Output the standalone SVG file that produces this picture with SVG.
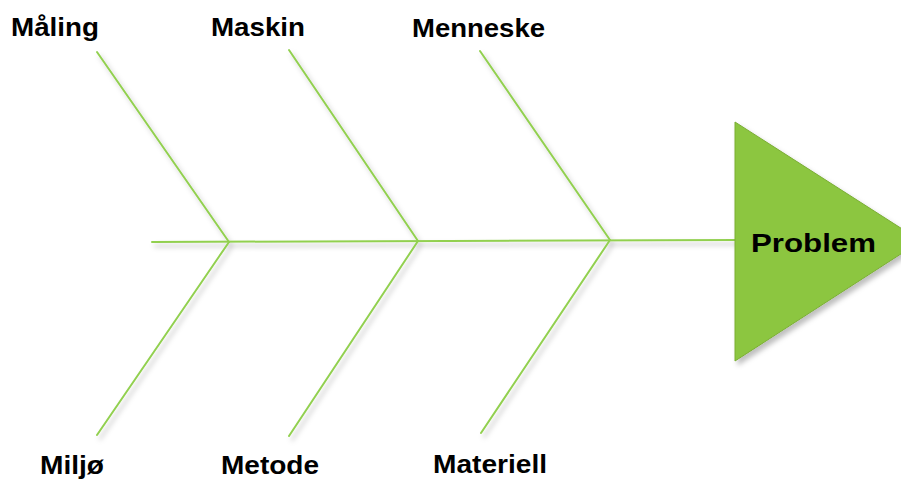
<svg xmlns="http://www.w3.org/2000/svg" width="901" height="479" viewBox="0 0 901 479">
<defs>
<style>
.bone{stroke:#92d050;stroke-width:2;fill:none;stroke-linecap:round}
.lbl{font-family:"Liberation Sans",Arial,sans-serif;font-weight:bold;font-size:25px;fill:#000}
</style>
<filter id="sh" x="-20%" y="-20%" width="140%" height="140%">
<feDropShadow dx="3" dy="4" stdDeviation="2.5" flood-color="#000" flood-opacity="0.25"/>
</filter>
</defs>
<g id="connectors" filter="url(#sh)">
<line class="bone" x1="152" y1="242" x2="737" y2="240"/>
<line class="bone" x1="97" y1="52" x2="229" y2="242"/>
<line class="bone" x1="289" y1="50" x2="418" y2="241"/>
<line class="bone" x1="480" y1="51" x2="610" y2="240"/>
<line class="bone" x1="229" y1="242" x2="97" y2="435"/>
<line class="bone" x1="418" y1="241" x2="289" y2="436"/>
<line class="bone" x1="610" y1="240" x2="481" y2="433"/>
</g>
<g id="problem">
<polygon points="735,122 921,241 735,361" fill="#8cc63f" stroke="#7aad35" stroke-width="1" filter="url(#sh)"/>
<text class="lbl" x="751" y="252" font-size="28" textLength="125" lengthAdjust="spacingAndGlyphs">Problem</text>
</g>
<g id="maaling"><text class="lbl" x="11" y="36" textLength="88" lengthAdjust="spacingAndGlyphs">Måling</text></g>
<g id="maskin"><text class="lbl" x="211" y="36" textLength="94" lengthAdjust="spacingAndGlyphs">Maskin</text></g>
<g id="menneske"><text class="lbl" x="412" y="37" textLength="133" lengthAdjust="spacingAndGlyphs">Menneske</text></g>
<g id="miljo"><text class="lbl" x="40" y="474" textLength="64" lengthAdjust="spacingAndGlyphs">Miljø</text></g>
<g id="metode"><text class="lbl" x="221" y="474" textLength="98" lengthAdjust="spacingAndGlyphs">Metode</text></g>
<g id="materiell"><text class="lbl" x="433" y="473" textLength="114" lengthAdjust="spacingAndGlyphs">Materiell</text></g>
</svg>
